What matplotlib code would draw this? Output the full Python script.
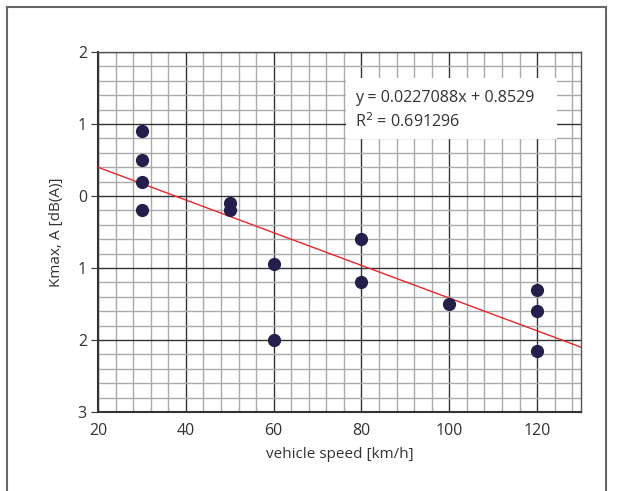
import matplotlib
matplotlib.use("Agg")
import matplotlib.pyplot as plt
from matplotlib.ticker import MultipleLocator, FuncFormatter
from matplotlib.patches import Rectangle
from matplotlib.lines import Line2D
import numpy as np

speed = [30, 30, 30, 30, 50, 50, 60, 60, 80, 80, 100, 120, 120, 120]
kmax = [0.9, 0.5, 0.2, -0.2, -0.1, -0.2, -0.95, -2.0, -0.6, -1.2, -1.5, -1.3, -1.6, -2.15]
slope = -0.0227088
intercept = 0.8529
eq_line1 = "y = 0.0227088x + 0.8529"
eq_line2 = "R$^2$ = 0.691296"

plt.rcParams['font.family'] = ['Open Sans', 'DejaVu Sans']
txt = '#333333'

W, H = 617, 491
fig = plt.figure(figsize=(6.17, 4.91), dpi=100)
ax = fig.add_axes([98/W, 1-412/H, (581-98)/W, (412-52)/H])

# outer frame (left, top, right)
fc = '#666666'
fig.lines.append(Line2D([7/W, 7/W], [0, 1-7/H], transform=fig.transFigure, color=fc, lw=1.5))
fig.lines.append(Line2D([7/W, 606/W], [1-7/H, 1-7/H], transform=fig.transFigure, color=fc, lw=1.5))
fig.lines.append(Line2D([606/W, 606/W], [0, 1-7/H], transform=fig.transFigure, color=fc, lw=1.5))

ax.set_xlim(20, 130)
ax.set_ylim(-3, 2)
ax.xaxis.set_major_locator(MultipleLocator(20))
ax.xaxis.set_minor_locator(MultipleLocator(4))
ax.yaxis.set_major_locator(MultipleLocator(1))
ax.yaxis.set_minor_locator(MultipleLocator(0.2))
ax.yaxis.set_major_formatter(FuncFormatter(lambda v, p: f"{abs(v):.0f}"))
ax.grid(which='minor', color='#aaaaaa', linewidth=1.0)
ax.grid(which='major', color='#333333', linewidth=1.0)
ax.set_axisbelow(True)
ax.tick_params(which='minor', length=0)
ax.tick_params(axis='y', which='major', length=5, color='#333333', labelsize=11.5, labelcolor=txt, pad=3)
ax.tick_params(axis='x', which='major', length=0, labelsize=11.5, labelcolor=txt, pad=8)
for s in ['left', 'bottom']:
    ax.spines[s].set_color('#333333')
    ax.spines[s].set_linewidth(1.5)
for s in ['top', 'right']:
    ax.spines[s].set_color('#555555')
    ax.spines[s].set_linewidth(1.0)

xs = np.array([20, 130])
ax.plot(xs, slope*xs + intercept, color='#e8262a', linewidth=1.0, zorder=3)
ax.scatter(speed, kmax, s=72, color='#221f4b', zorder=4)

# equation box
bx0 = (346-98)/483
bx1 = (557-98)/483
by1 = 1 - (78-52)/360
by0 = 1 - (139-52)/360
ax.add_patch(Rectangle((bx0, by0), bx1-bx0, by1-by0, transform=ax.transAxes,
                       facecolor='white', edgecolor='none', zorder=5))
tx = (355-98)/483
ax.text(tx, 1-(98-52)/360, eq_line1, transform=ax.transAxes, fontsize=11.6, color=txt,
        va='center', ha='left', zorder=6)
ax.text(tx, 1-(122-52)/360, eq_line2, transform=ax.transAxes, fontsize=11.6, color=txt,
        va='center', ha='left', zorder=6)

ax.set_xlabel("vehicle speed [km/h]", fontsize=11, color=txt, labelpad=6)
ax.set_ylabel("Kmax, A [dB(A)]", fontsize=11, color=txt, labelpad=10)

fig.savefig("out.png", dpi=100)
